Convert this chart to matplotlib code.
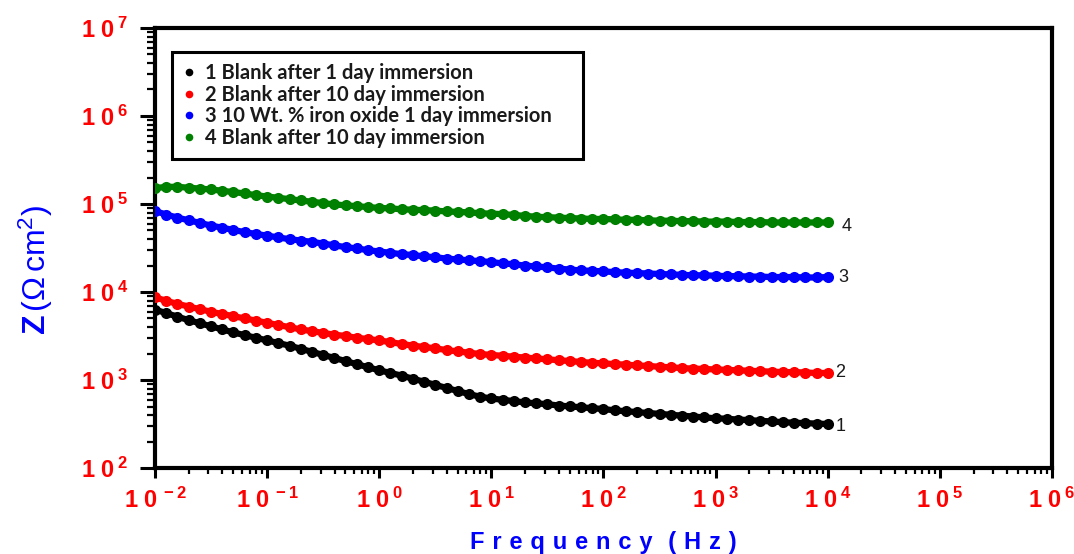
import numpy as np
import matplotlib
matplotlib.use("Agg")
import matplotlib.pyplot as plt
from matplotlib.ticker import LogLocator, FuncFormatter, NullFormatter

plt.rcParams['mathtext.fontset'] = 'custom'
plt.rcParams['mathtext.rm'] = 'Liberation Sans'
plt.rcParams['mathtext.bf'] = 'Liberation Sans:bold'
plt.rcParams['mathtext.it'] = 'Liberation Sans:italic'

# frequency sweep, 10 points per decade from 1e-2 to 1e4 Hz
freq = np.logspace(-2, 4, 61)

# log10 |Z|, one value per frequency
logz_1 = [3.80, 3.76, 3.72, 3.68, 3.645, 3.61, 3.575, 3.54, 3.51, 3.48,
          3.45, 3.42, 3.39, 3.355, 3.32, 3.285, 3.25, 3.215, 3.18, 3.145,
          3.11, 3.08, 3.05, 3.015, 2.98, 2.945, 2.91, 2.875, 2.84, 2.81,
          2.79, 2.775, 2.76, 2.745, 2.735, 2.725, 2.71, 2.70, 2.69, 2.68,
          2.67, 2.655, 2.645, 2.635, 2.625, 2.615, 2.605, 2.595, 2.585, 2.575,
          2.565, 2.56, 2.55, 2.545, 2.535, 2.53, 2.52, 2.515, 2.51, 2.505,
          2.50]
logz_2 = [3.94, 3.90, 3.865, 3.835, 3.805, 3.775, 3.75, 3.725, 3.70, 3.675,
          3.65, 3.625, 3.60, 3.575, 3.555, 3.535, 3.515, 3.50, 3.48, 3.465,
          3.45, 3.43, 3.41, 3.39, 3.375, 3.36, 3.34, 3.325, 3.31, 3.295,
          3.285, 3.275, 3.265, 3.255, 3.245, 3.235, 3.225, 3.215, 3.205, 3.195,
          3.19, 3.18, 3.175, 3.165, 3.16, 3.15, 3.145, 3.135, 3.13, 3.125,
          3.12, 3.115, 3.11, 3.105, 3.10, 3.095, 3.09, 3.09, 3.085, 3.08,
          3.08]
logz_3 = [4.92, 4.88, 4.845, 4.815, 4.785, 4.755, 4.73, 4.705, 4.68, 4.66,
          4.64, 4.62, 4.60, 4.585, 4.57, 4.55, 4.53, 4.51, 4.495, 4.475,
          4.46, 4.445, 4.43, 4.42, 4.405, 4.395, 4.38, 4.37, 4.36, 4.35,
          4.34, 4.325, 4.315, 4.30, 4.29, 4.28, 4.265, 4.255, 4.245, 4.24,
          4.235, 4.225, 4.22, 4.215, 4.21, 4.205, 4.20, 4.195, 4.19, 4.19,
          4.185, 4.18, 4.18, 4.175, 4.175, 4.17, 4.17, 4.17, 4.165, 4.165,
          4.17]
logz_4 = [5.18, 5.195, 5.195, 5.185, 5.175, 5.165, 5.15, 5.135, 5.12, 5.10,
          5.085, 5.07, 5.055, 5.04, 5.025, 5.01, 4.995, 4.985, 4.975, 4.965,
          4.955, 4.95, 4.94, 4.935, 4.93, 4.925, 4.915, 4.91, 4.905, 4.895,
          4.89, 4.885, 4.875, 4.865, 4.855, 4.85, 4.845, 4.84, 4.835, 4.83,
          4.83, 4.825, 4.82, 4.82, 4.815, 4.81, 4.81, 4.805, 4.805, 4.80,
          4.80, 4.80, 4.795, 4.795, 4.795, 4.79, 4.79, 4.79, 4.79, 4.79,
          4.79]

labels = ["1 Blank after 1 day immersion",
          "2 Blank after 10 day immersion",
          "3 10 Wt. % iron oxide 1 day immersion",
          "4 Blank after 10 day immersion"]
tags = ["1", "2", "3", "4"]
colors = ["black", "#ff0000", "#0000ff", "#008000"]
series = [logz_1, logz_2, logz_3, logz_4]

fig = plt.figure(figsize=(10.74, 5.54), dpi=100)
ax = fig.add_axes([0.1443, 0.1552, 0.8352, 0.7943])

handles = []
for logz, c, lab in zip(series, colors, labels):
    z = 10 ** np.array(logz)
    ax.plot(freq, z, '-', color=c, lw=4.5, zorder=2)
    ax.plot(freq, z, 'o', color=c, ms=8, mew=0, zorder=3)
    h, = ax.plot([], [], 'o', color=c, ms=5.5, mew=0, label=lab)
    handles.append(h)

offsets = [(6, -2), (5, 0), (8, 0), (10, -3)]
for logz, t, off in zip(series, tags, offsets):
    ax.annotate(t, xy=(freq[-1], 10 ** logz[-1]), xytext=off,
                textcoords='offset points', ha='left', va='center',
                fontsize=13, color='#1a1a1a', family='Liberation Sans')

ax.set_xscale('log')
ax.set_yscale('log')
ax.set_xlim(1e-2, 1e6)
ax.set_ylim(1e2, 1e7)

for s in ax.spines.values():
    s.set_linewidth(3)

ax.xaxis.set_major_locator(LogLocator(base=10, numticks=20))
ax.xaxis.set_minor_locator(LogLocator(base=10, subs=np.arange(2, 10), numticks=20))
ax.yaxis.set_major_locator(LogLocator(base=10, numticks=20))
ax.yaxis.set_minor_locator(LogLocator(base=10, subs=np.arange(2, 10), numticks=20))

fmt = FuncFormatter(lambda v, pos: r'$\mathbf{1\ 0^{\;%d}}$' % int(round(np.log10(v))))
ax.xaxis.set_major_formatter(fmt)
ax.yaxis.set_major_formatter(fmt)
ax.xaxis.set_minor_formatter(NullFormatter())
ax.yaxis.set_minor_formatter(NullFormatter())

ax.tick_params(axis='both', which='both', direction='out', top=False, right=False,
               labelcolor='#ff0000', labelsize=17)
ax.tick_params(axis='y', which='major', length=11, width=2.2, pad=8)
ax.tick_params(axis='y', which='minor', length=6, width=1.6)
ax.tick_params(axis='x', which='major', length=7, width=2.2, pad=7)
ax.tick_params(axis='x', which='minor', length=4, width=1.6)

# letter-spaced axis title
xtitle = "\u2004".join("Frequency") + "\u2004\u2004" + "\u2004".join("(Hz)")
ax.set_xlabel(xtitle, fontsize=17, fontweight='bold', color='#0000ff',
              family=['Liberation Sans', 'DejaVu Sans'])
ax.xaxis.set_label_coords(0.5, -0.143)
ax.set_ylabel(r'$\mathbf{Z}\,(\Omega\,\mathrm{cm}^{2})$', fontsize=23, color='#0000ff')
ax.yaxis.set_label_coords(-0.112, 0.45)

leg = ax.legend(handles=handles, loc='upper left', mode='expand',
                bbox_to_anchor=(0.019, 0.5, 0.458, 0.445),
                fancybox=False, framealpha=1, edgecolor='black',
                prop={'family': 'Lato', 'weight': 'bold', 'size': 14.5},
                handlelength=0.6, handletextpad=0.5, labelspacing=0.08,
                borderpad=0.55, borderaxespad=0)
leg.get_frame().set_linewidth(2.2)
for t in leg.get_texts():
    t.set_color('#1a1a1a')

plt.savefig("out.png", dpi=100)
